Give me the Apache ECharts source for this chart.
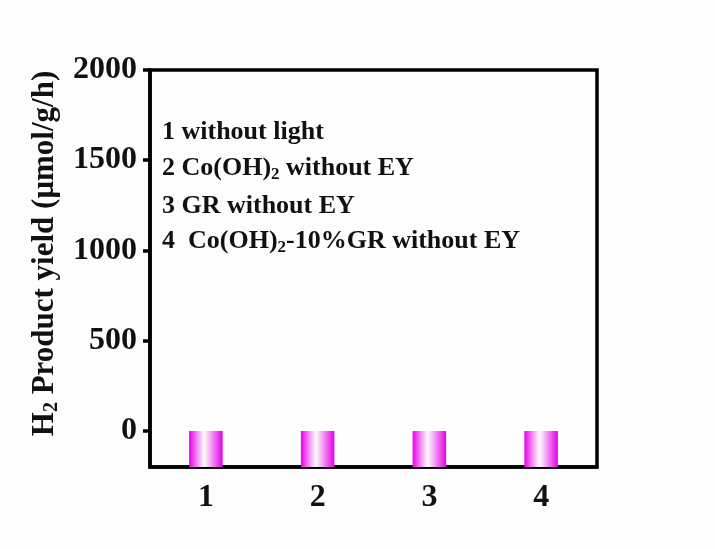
<!DOCTYPE html>
<html>
<head>
<meta charset="utf-8">
<title>H2 product yield</title>
<script src="https://cdn.jsdelivr.net/npm/echarts@6/dist/echarts.min.js"></script>
<style>
  html, body { margin: 0; padding: 0; background: #fdfdfd; }
  #chart { width: 715px; height: 549px; }
</style>
</head>
<body>
<div id="chart"></div>
<script>
// Control experiments: sample labels and measured H2 yield (μmol/g/h)
const categories = ['1', '2', '3', '4'];
const yieldValues = [0, 0, 0, 0];
const yTickValues = [0, 500, 1000, 1500, 2000];
const yMin = -200;
const yMax = 2000;
// Sample descriptions; parts in {sub|...} are subscripts
const sampleNotes = [
  '1 without light',
  '2 Co(OH){sub|2} without EY',
  '3 GR without EY',
  '4  Co(OH){sub|2}-10%GR without EY'
];

const FONT = '"Liberation Serif", "Times New Roman", serif';
const chart = echarts.init(document.getElementById('chart'));

// Bars are filled from the bottom of the axis up to their value
function renderBar(params, api) {
  const idx = api.value(0);
  const val = api.value(1);
  const top = api.coord([idx, val]);
  const base = api.coord([idx, yMin]);
  const w = api.size([1, 0])[0] * 0.3;
  return {
    type: 'rect',
    shape: { x: top[0] - w / 2, y: top[1], width: w, height: base[1] - top[1] },
    style: {
      fill: new echarts.graphic.LinearGradient(0, 0, 1, 0, [
        { offset: 0, color: '#e800e8' },
        { offset: 0.45, color: '#ffffff' },
        { offset: 1, color: '#e400e4' }
      ])
    }
  };
}

const noteTops = [119, 155, 193, 228];
const noteGraphics = sampleNotes.map((txt, i) => ({
  type: 'text',
  left: 162,
  top: noteTops[i],
  style: {
    text: txt,
    font: 'bold 26px ' + FONT,
    fill: '#111',
    rich: {
      sub: { fontSize: 17, fontWeight: 'bold', fontFamily: FONT, padding: [14, 0, 0, 0], fill: '#111' }
    }
  }
}));

chart.setOption({
  backgroundColor: '#fdfdfd',
  animation: false,
  grid: {
    left: 150, right: 118, top: 70, bottom: 82,
    show: true, borderColor: '#000', borderWidth: 3.5, backgroundColor: 'transparent'
  },
  xAxis: {
    type: 'category',
    data: categories,
    axisLine: { onZero: false, lineStyle: { color: '#000', width: 3.5 } },
    axisTick: { alignWithLabel: true, length: 7, lineStyle: { color: '#000', width: 3.5 } },
    axisLabel: { margin: 15, fontFamily: FONT, fontWeight: 'bold', fontSize: 32, color: '#111' },
    splitLine: { show: false }
  },
  yAxis: {
    type: 'value',
    min: yMin,
    max: yMax,
    name: 'H{sub|2} Product yield (μmol/g/h)',
    nameLocation: 'middle',
    nameGap: 84,
    nameTextStyle: {
      fontFamily: FONT, fontWeight: 'bold', fontSize: 31, color: '#111',
      padding: [0, 0, 0, 30],
      rich: {
        sub: { fontFamily: FONT, fontWeight: 'bold', fontSize: 20, padding: [14, 0, 0, 0], color: '#111' }
      }
    },
    axisLine: { show: true, lineStyle: { color: '#000', width: 3.5 } },
    axisTick: { show: true, length: 7, customValues: yTickValues, lineStyle: { color: '#000', width: 3.5 } },
    axisLabel: {
      margin: 13, customValues: yTickValues,
      formatter: v => String(v),
      fontFamily: FONT, fontWeight: 'bold', fontSize: 32, color: '#111'
    },
    splitLine: { show: false }
  },
  graphic: noteGraphics,
  series: [{
    type: 'custom',
    renderItem: renderBar,
    encode: { x: 0, y: 1 },
    data: categories.map((c, i) => [i, yieldValues[i]]),
    z: 1
  }]
});
</script>
</body>
</html>
